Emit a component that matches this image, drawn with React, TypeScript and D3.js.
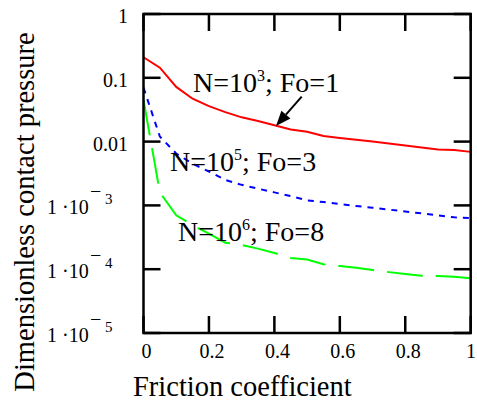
import React, { useEffect, useRef } from "react";
import * as d3 from "d3";

// friction coefficient samples (shared by all curves)
const friction = [0, 0.05, 0.1, 0.15, 0.2, 0.25, 0.3, 0.35, 0.4, 0.45, 0.5,
  0.55, 0.6, 0.65, 0.7, 0.75, 0.8, 0.85, 0.9, 0.95, 1];

// N=10^3; Fo=1
const pressureN3 = [0.21, 0.144, 0.072, 0.047, 0.036, 0.029, 0.024, 0.021, 0.018, 0.0155, 0.0143,
  0.0122, 0.0114, 0.0107, 0.0100, 0.0093, 0.0087, 0.0081, 0.0075, 0.0074, 0.0069];
// N=10^5; Fo=3
const pressureN5 = [0.07, 0.012, 0.0065, 0.0045, 0.0034, 0.0025, 0.0021, 0.00183, 0.0016, 0.0014, 0.0012,
  0.00113, 0.00105, 0.00098, 0.00092, 0.00086, 0.0008, 0.00075, 0.0007, 0.00065, 0.00063];
// N=10^6; Fo=8
const pressureN6 = [0.045, 0.0016, 0.0007, 0.00049, 0.00036, 0.00026, 0.00024, 0.00021, 0.00018, 0.00015, 0.000142,
  0.00012, 0.000112, 0.000105, 0.000097, 0.00009, 0.000084, 0.000079, 0.000078, 0.000076, 0.000072];

const xTicks = [0, 0.2, 0.4, 0.6, 0.8, 1];
const xTickLabels = ["0", "0.2", "0.4", "0.6", "0.8", "1"];
const yDecTicks = [1, 0.1, 0.01];
const yDecLabels = ["1", "0.1", "0.01"];
const yExpTicks = [1e-3, 1e-4, 1e-5];
const yExpPowers = ["3", "4", "5"];

// arrow from label to the red curve: [friction, pressure]
const arrowTail = [0.4835, 0.0506];
const arrowHead = [0.405, 0.0176];

const FONT = "'Liberation Serif', 'DejaVu Serif', serif";

export default function App() {
  const ref = useRef<SVGSVGElement>(null);

  useEffect(() => {
    const svg = d3.select(ref.current);
    svg.selectAll("*").remove();
    const left = 143.5, right = 470.7, top = 14, bottom = 333;

    const x = d3.scaleLinear().domain([0, 1]).range([left, right]);
    const y = d3.scaleLog().domain([1e-5, 1]).range([bottom, top]);

    const line = d3.line<number>()
      .x((d, i) => x(friction[i]))
      .y(d => y(d));

    const series = [
      { values: pressureN3, color: "#ff0000", dash: null },
      { values: pressureN5, color: "#0000ff", dash: "6,6" },
      { values: pressureN6, color: "#00ff00", dash: "36,13" },
    ];

    series.forEach(s => {
      svg.append("path")
        .attr("d", line(s.values))
        .attr("fill", "none")
        .attr("stroke", s.color)
        .attr("stroke-width", 2)
        .attr("stroke-dasharray", s.dash);
    });

    // inner ticks on all four sides
    const tl = 17;
    const ticks = svg.append("g").attr("stroke", "#000").attr("stroke-width", 2.5);
    xTicks.forEach(t => {
      ticks.append("line").attr("x1", x(t)).attr("x2", x(t)).attr("y1", bottom).attr("y2", bottom - tl);
      ticks.append("line").attr("x1", x(t)).attr("x2", x(t)).attr("y1", top).attr("y2", top + tl);
    });
    [...yDecTicks, ...yExpTicks].forEach(t => {
      ticks.append("line").attr("x1", left).attr("x2", left + tl).attr("y1", y(t)).attr("y2", y(t));
      ticks.append("line").attr("x1", right).attr("x2", right - tl).attr("y1", y(t)).attr("y2", y(t));
    });

    svg.append("rect")
      .attr("x", left).attr("y", top)
      .attr("width", right - left).attr("height", bottom - top)
      .attr("fill", "none").attr("stroke", "#000").attr("stroke-width", 2.5);

    const labels = svg.append("g").style("font-family", FONT);

    // x tick labels
    xTicks.forEach((t, i) => {
      const last = i === xTicks.length - 1;
      labels.append("text")
        .attr("x", last ? 476 : x(t) + 3)
        .attr("y", 358)
        .attr("text-anchor", last ? "end" : "middle")
        .style("font-size", "20px")
        .text(xTickLabels[i]);
    });

    // y tick labels
    yDecTicks.forEach((t, i) => {
      labels.append("text")
        .attr("x", 128).attr("y", y(t) + 9)
        .attr("text-anchor", "end")
        .style("font-size", "20px")
        .text(yDecLabels[i]);
    });
    yExpTicks.forEach((t, i) => {
      labels.append("text").attr("x", 47).attr("y", y(t) + 8.5).style("font-size", "20px").text("1 \u00b710");
      labels.append("text").attr("x", 90).attr("y", y(t) - 7).style("font-size", "20px").text("\u2212");
      labels.append("text").attr("x", 105).attr("y", y(t) - 1.5).style("font-size", "15px").text(yExpPowers[i]);
    });

    // axis titles
    labels.append("text")
      .attr("x", 133).attr("y", 396)
      .style("font-size", "28.5px")
      .text("Friction coefficient");
    labels.append("text")
      .attr("transform", "translate(34,212) rotate(-90)")
      .attr("text-anchor", "middle")
      .style("font-size", "28.5px")
      .text("Dimensionless contact pressure");

    // curve annotations
    const notes = [
      { x: 193, y: 92, pow: "3", fo: "1" },
      { x: 170, y: 171, pow: "5", fo: "3" },
      { x: 178, y: 241, pow: "6", fo: "8" },
    ];
    notes.forEach(n => {
      const t = labels.append("text")
        .attr("x", n.x).attr("y", n.y)
        .style("font-size", "28px");
      t.append("tspan").text("N=10");
      t.append("tspan").attr("dy", -11).style("font-size", "16px").text(n.pow);
      t.append("tspan").attr("dy", 11).text("; Fo=" + n.fo);
    });

    // arrow
    const x1 = x(arrowTail[0]), y1 = y(arrowTail[1]);
    const x2 = x(arrowHead[0]), y2 = y(arrowHead[1]);
    const ang = Math.atan2(y2 - y1, x2 - x1);
    const hl = 15, hw = 6;
    const bx = x2 - hl * Math.cos(ang), by = y2 - hl * Math.sin(ang);
    svg.append("line")
      .attr("x1", x1).attr("y1", y1).attr("x2", bx).attr("y2", by)
      .attr("stroke", "#000").attr("stroke-width", 2);
    svg.append("path")
      .attr("d", `M${x2},${y2}L${bx + hw * Math.sin(ang)},${by - hw * Math.cos(ang)}L${bx - hw * Math.sin(ang)},${by + hw * Math.cos(ang)}Z`)
      .attr("fill", "#000");
  }, []);

  return (
    <svg
      ref={ref}
      width={477}
      height={403}
      style={{ position: "absolute", left: 0, top: 0, background: "#fff" }}
    />
  );
}
